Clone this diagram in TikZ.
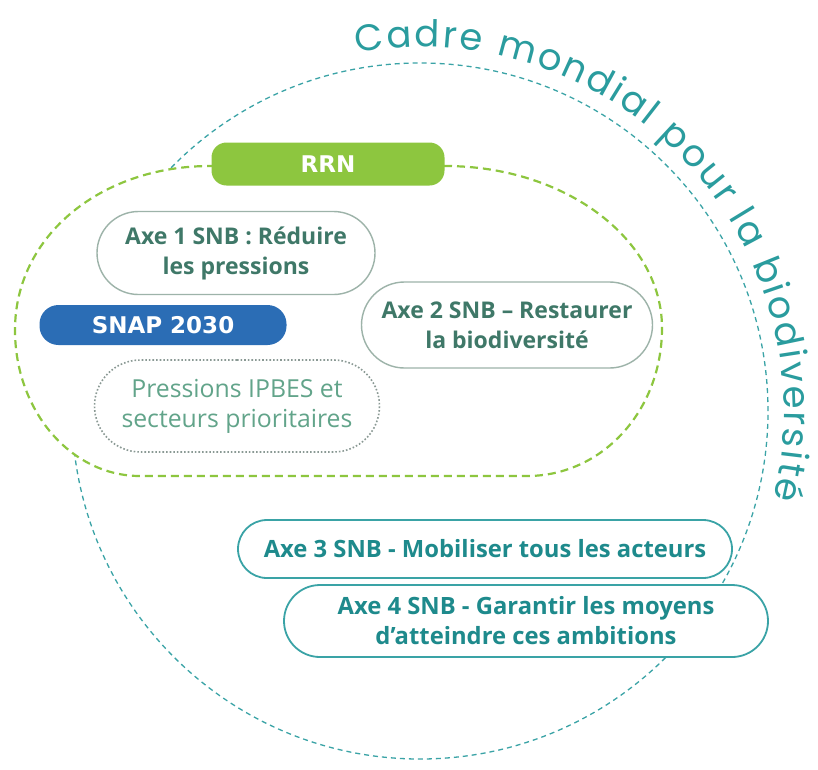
\documentclass[tikz,border=0pt]{standalone}
\usepackage{fontspec}
\setmainfont{Open Sans}
\newfontfamily\cadrefont{Poppins}
\newfontfamily\pillfont{DejaVu Sans}
\usetikzlibrary{shapes.misc,decorations.text}
\definecolor{tealc}{HTML}{3AA3A6}
\definecolor{tealtext}{HTML}{2A9C9E}
\definecolor{tealdark}{HTML}{1E8A8C}
\definecolor{rrngreen}{HTML}{8DC63F}
\definecolor{snapblue}{HTML}{2B6DB5}
\definecolor{ggborder}{HTML}{9DB3A9}
\definecolor{ggtext}{HTML}{3F7868}
\definecolor{prtext}{HTML}{62A48A}
\definecolor{prdots}{HTML}{8A9994}
\tikzset{
  pillbox/.style={rounded rectangle, inner sep=0pt, fill=white, align=center,
    font=\bfseries\fontsize{23}{30}\selectfont},
  axeA/.style={pillbox, draw=ggborder, line width=1.4pt, text=ggtext},
  axeB/.style={pillbox, draw=tealc, line width=1.8pt, text=tealdark,
    font=\bfseries\fontsize{23.8}{30}\selectfont},
  pressbox/.style={pillbox, draw=prdots, line width=1.6pt, dotted, text=prtext,
    font=\fontsize{24.8}{30}\selectfont},
  filledpill/.style={rectangle, inner sep=0pt, text=white,
    font=\pillfont\bfseries\fontsize{23}{23}\selectfont}
}
\begin{document}
\begin{tikzpicture}[x=1pt,y=1pt]
\useasboundingbox (0,0) rectangle (818,-769);
% outer dashed circle
\coordinate (cc) at (420,-411);
\draw[tealc, line width=1.3pt, dash pattern=on 5pt off 4pt] (cc) circle[radius=348];
% curved title
\path[decorate, decoration={text along path, text align=fit to path,
  text color=tealtext,
  text={|\cadrefont\fontsize{37}{37}\selectfont|Cadre mondial pour la biodiversité}}]
  (420,-411) ++(100:364) arc[start angle=100, end angle=-14, radius=364];
% green RRN region
\draw[rrngreen, line width=2.2pt, dash pattern=on 8pt off 5pt, fill=white]
  (210,-166) -- (445,-166)
  .. controls (565,-166) and (662,-239) .. (662,-328)
  .. controls (662,-411) and (602,-476) .. (527,-476)
  -- (140,-476)
  .. controls (71,-476) and (15,-411) .. (15,-330)
  .. controls (15,-235) and (102,-166) .. (210,-166) -- cycle;
% nodes
\node[filledpill, fill=rrngreen, rounded corners=15pt, minimum width=233pt, minimum height=43pt]
  (rrn) at (328,-164) {RRN};
\node[axeA, minimum width=278pt, minimum height=83pt] (axe1) at (236,-253)
  {Axe 1 SNB : Réduire\\les pressions};
\node[filledpill, fill=snapblue, rounded corners=19pt, minimum width=247pt, minimum height=40pt]
  (snap) at (163,-325) {SNAP 2030};
\node[axeA, minimum width=291pt, minimum height=86pt] (axe2) at (507,-325)
  {Axe 2 SNB – Restaurer\\la biodiversité};
\node[pressbox, minimum width=285pt, minimum height=92pt] (press) at (237,-406)
  {Pressions IPBES et\\secteurs prioritaires};
\node[axeB, minimum width=494pt, minimum height=58pt] (axe3) at (485,-549)
  {Axe 3 SNB - Mobiliser tous les acteurs};
\node[axeB, minimum width=484pt, minimum height=72pt] (axe4) at (526,-621)
  {Axe 4 SNB - Garantir les moyens\\d'atteindre ces ambitions};
\end{tikzpicture}
\end{document}
